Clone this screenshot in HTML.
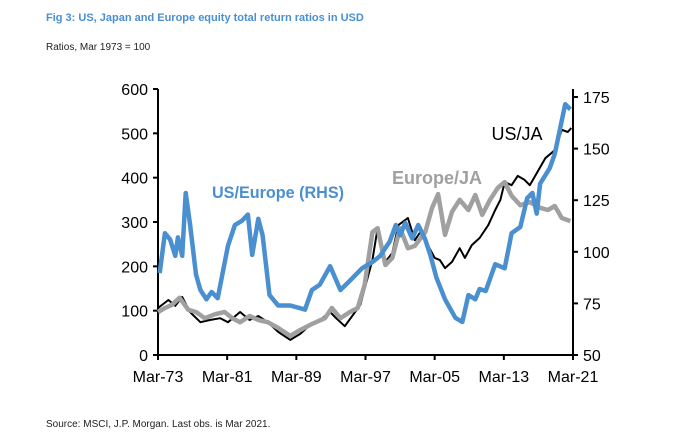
<!DOCTYPE html>
<html><head><meta charset="utf-8"><style>
body{margin:0;background:#fff;width:679px;height:438px;overflow:hidden;font-family:"Liberation Sans",Arial,sans-serif}
</style></head><body>
<svg id="c" width="679" height="438" xmlns="http://www.w3.org/2000/svg">
<text x="46" y="21" font-size="11" font-weight="bold" fill="#4a8fd0" font-family="Liberation Sans">Fig 3: US, Japan and Europe equity total return ratios in USD</text>
<text x="46" y="50" font-size="10" fill="#222" font-family="Liberation Sans">Ratios, Mar 1973 = 100</text>
<text x="46" y="427" font-size="10" fill="#222" font-family="Liberation Sans">Source: MSCI, J.P. Morgan. Last obs. is Mar 2021.</text>
<g id="axes"></g>
<g id="series"></g>
<text x="212" y="198" font-size="17" font-weight="bold" fill="#4a8fd0" font-family="Liberation Sans" textLength="132" lengthAdjust="spacingAndGlyphs">US/Europe (RHS)</text>
<text x="437" y="184" text-anchor="middle" font-size="18" font-weight="bold" fill="#a0a0a0" font-family="Liberation Sans">Europe/JA</text>
<text x="517" y="140" text-anchor="middle" font-size="18" fill="#000" font-family="Liberation Sans">US/JA</text>
</svg>
<script>
const leftTicks=[0,100,200,300,400,500,600];
const rightTicks=[50,75,100,125,150,175];
const xTickLabels=["Mar-73","Mar-81","Mar-89","Mar-97","Mar-05","Mar-13","Mar-21"];
const blueT=[0.2,0.8,1.4,2.0,2.3,2.8,3.2,3.7,4.4,4.9,5.6,6.2,6.9,8.1,8.9,9.7,10.4,10.9,11.6,12.1,12.9,13.9,15.3,17.0,17.8,18.7,19.9,21.1,22.2,23.6,24.8,25.7,26.8,27.5,28.0,28.6,29.4,30.1,30.9,31.5,32.2,33.2,34.4,35.2,35.9,36.7,37.2,37.9,39.0,40.1,40.9,41.9,42.7,43.3,43.8,44.2,45.3,45.9,46.5,47.1,47.7];
const blueV=[89.7,109,106,98,107,98,128.5,113.5,89,81.5,77,80.5,77.5,103,113,115,118,98.5,116,108,79,74,74,72,81.5,84,93,81.5,86,92,95,98,105,113,108,114,106.5,113,106,98.5,87.5,77,68,66,79,77,82,81,94,92,109,112,126,128.5,118.5,133,140.5,147.5,159.5,171.5,169];
const blackT=[0,1.2,2.0,2.8,3.7,4.9,6.0,7.2,8.1,9.5,10.6,11.6,12.7,13.9,15.3,16.4,17.6,18.7,19.9,20.6,21.6,22.8,23.4,24.8,25.4,26.3,27.1,27.8,28.9,29.7,30.5,31.2,32.0,32.6,33.2,34.0,34.9,35.5,36.3,37.2,38.2,39.0,39.6,40.1,40.9,41.6,42.4,43.0,44.8,45.9,46.7,47.4,47.8];
const blackV=[106,124,111,131,97,74,79,83,74,97,79,88,74,52,34,47,68,79,97,83,65,97,113,214,286,210,230,293,309,259,282,248,219,214,196,210,241,219,248,264,293,327,350,390,383,404,395,383,444,462,508,503,512];
const grayT=[0,0.8,1.6,2.5,3.5,4.4,5.4,6.6,7.7,8.6,9.5,10.6,11.6,12.7,13.9,15.3,16.4,17.8,19.3,20.1,21.1,22.2,23.1,23.9,24.8,25.4,26.3,27.1,28.0,28.9,29.7,30.9,31.7,32.4,33.2,34.0,34.9,35.9,36.7,37.5,38.4,39.3,40.1,40.9,41.9,43.0,44.2,45.1,45.9,46.7,47.7];
const grayV=[97,106,113,129,102,97,83,92,97,83,74,88,79,74,61,43,56,70,83,106,83,97,106,158,277,286,203,219,286,241,246,277,332,363,271,323,350,327,361,316,350,377,390,359,338,345,332,327,336,309,302];

const X0=158,X1=573,Y0=355,YT=89;
const x=t=>X0+t*(X1-X0)/48;
const yL=v=>Y0-v*(Y0-YT)/600;
const yR=v=>Y0-(v-50)*(Y0-97)/125;
const NS="http://www.w3.org/2000/svg";
const axes=document.getElementById('axes'),ser=document.getElementById('series');
function mk(tag,attrs,parent){const e=document.createElementNS(NS,tag);for(const k in attrs)e.setAttribute(k,attrs[k]);parent.appendChild(e);return e;}
let e;
e=mk('line',{x1:X0,y1:YT,x2:X0,y2:Y0,stroke:'#000','stroke-width':2},axes);


e=mk('line',{x1:X0,y1:Y0,x2:X1,y2:Y0,stroke:'#000','stroke-width':2},axes);


e=mk('line',{x1:X1,y1:YT,x2:X1,y2:Y0,stroke:'#000','stroke-width':2},axes);


leftTicks.forEach(v=>{const y=yL(v);
 mk('line',{x1:X0-5,y1:y,x2:X0,y2:y,stroke:'#000','stroke-width':2},axes);
 e=mk('text',{x:X0-10,y:y+6,'text-anchor':'end','font-size':16,fill:'#000'},axes);e.textContent=v;
 
 });
rightTicks.forEach(v=>{const y=yR(v);
 mk('line',{x1:X1,y1:y,x2:X1+5,y2:y,stroke:'#000','stroke-width':2},axes);
 e=mk('text',{x:X1+10,y:y+6,'font-size':16,fill:'#000'},axes);e.textContent=v;
 
 });
xTickLabels.forEach((s,i)=>{const xx=x(i*8);
 mk('line',{x1:xx,y1:Y0,x2:xx,y2:Y0+5,stroke:'#000','stroke-width':2},axes);
 e=mk('text',{x:xx,y:Y0+27,'text-anchor':'middle','font-size':16,fill:'#000'},axes);e.textContent=s;
 
 });
function line(T,V,fy,col,w){return mk('polyline',{points:T.map((t,i)=>x(t).toFixed(1)+','+fy(V[i]).toFixed(1)).join(' '),fill:'none',stroke:col,'stroke-width':w,'stroke-linejoin':'round'},ser);}
e=line(blackT,blackV,yL,'#000',2);


e=line(grayT,grayV,yL,'#a0a0a0',4.5);


e=line(blueT,blueV,yR,'#4a8fd0',4.5);


</script>
</body></html>
